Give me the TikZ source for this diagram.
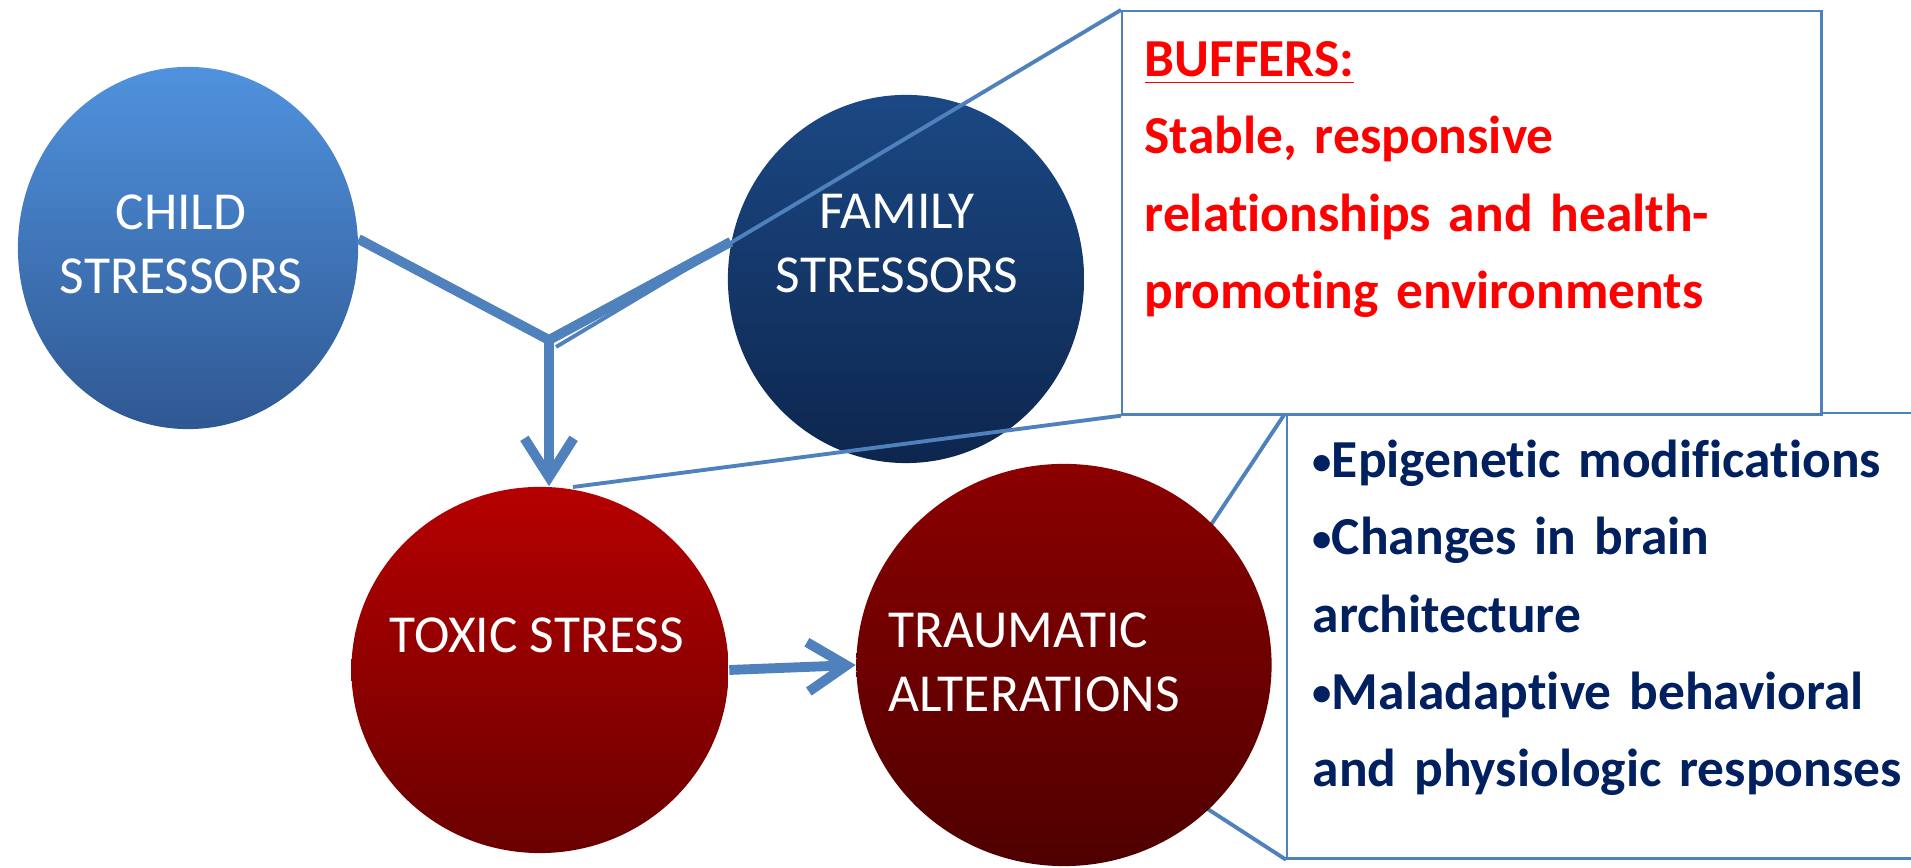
\documentclass[tikz,border=0pt]{standalone}
\usepackage{fontspec}
\setmainfont{Carlito}[Ligatures=NoCommon]
\usetikzlibrary{shapes.geometric,arrows.meta}
\definecolor{linkblue}{RGB}{79,129,189}
\definecolor{outnavy}{RGB}{0,32,96}
\newcommand{\bul}{\raisebox{0.12ex}{\fontsize{11}{0}\selectfont•}}
\newcommand{\boxfont}{\bfseries\fontsize{15.2}{21.9}\selectfont\spaceskip=0.17em plus 0.05em\relax}

\begin{document}
\begin{tikzpicture}[x=0.01cm,y=-0.01cm,
    blob/.style={ellipse,inner sep=0pt},
    blobtext/.style={text=white,align=center,font=\fontsize{15.2}{18.2}\selectfont},
    flow/.style={draw=linkblue,line width=2.8pt},
    barb/.style={-{Straight Barb[length=11pt,width=14pt]}},
    callout/.style={draw=linkblue,line width=1.1pt},
    boxline/.style={draw=linkblue,line width=0.7pt,fill=white,inner sep=0pt,anchor=north west},
    boxtext/.style={anchor=base west,inner sep=0pt,text width=6.4cm,align=left,font=\boxfont}]
  \useasboundingbox (0,0) rectangle (1911,868);
  % outcome box and its callout, behind the last circle
  \node[boxline,minimum width=7cm,minimum height=4.45cm] (outbox) at (1286,412) {};
  \coordinate (outtip) at (1078,725);
  \draw[callout] (outbox.north west) -- (outtip);
  \draw[callout] (outbox.south west) -- (outtip);
  % circles
  \node[blob,minimum width=3.40cm,minimum height=3.62cm,top color={rgb,255:red,80;green,146;blue,222},bottom color={rgb,255:red,47;green,88;blue,146}] (child) at (188,248) {};
  \node[blob,minimum width=3.56cm,minimum height=3.68cm,top color={rgb,255:red,27;green,72;blue,132},bottom color={rgb,255:red,13;green,38;blue,78}] (family) at (906,279) {};
  \node[blob,minimum width=3.77cm,minimum height=3.66cm,top color={rgb,255:red,182;green,0;blue,0},bottom color={rgb,255:red,106;green,0;blue,0}] (toxic) at (540,670) {};
  \node[blob,minimum width=4.15cm,minimum height=4.02cm,top color={rgb,255:red,140;green,0;blue,0},bottom color={rgb,255:red,78;green,0;blue,0}] (trauma) at (1064,665) {};
  % circle texts
  \node[blobtext] (childtxt) at (181,244) {CHILD\\STRESSORS};
  \node[blobtext] (familytxt) at (897,244) {FAMILY\\STRESSORS};
  \node[blobtext] (toxictxt) at (537,635) {TOXIC STRESS};
  \node[blobtext,align=left,anchor=west] (traumatxt) at (876,662) {TRAUMATIC\\ALTERATIONS};
  % arrows
  \coordinate (junc) at (549,340);
  \draw[flow,line join=bevel] (child.3) -- (junc) -- (family.168);
  \draw[flow,barb] (junc) -- (junc |- toxic.north);
  \draw[flow,barb] (toxic.east) -- (trauma.west);
  % buffers box
  \node[boxline,minimum width=6.99cm,minimum height=4.03cm] (buffbox) at (1121,10) {};
  \coordinate (bufftop) at (556,347);
  \coordinate (buffbot) at (573,487);
  \draw[callout] (buffbox.north west) -- (bufftop);
  \draw[callout] (buffbox.south west) -- (buffbot);
  \node[boxtext,text=red] (bufftxt) at (1144,77) {\underline{BUFFERS:}\\Stable, responsive\\relationships and health-\\promoting environments};
  \node[boxtext,text=outnavy] (outtxt) at (1312,478) {\bul Epigenetic modifications\\\bul Changes in brain\\architecture\\\bul Maladaptive behavioral\\and physiologic responses};
\end{tikzpicture}
\end{document}
